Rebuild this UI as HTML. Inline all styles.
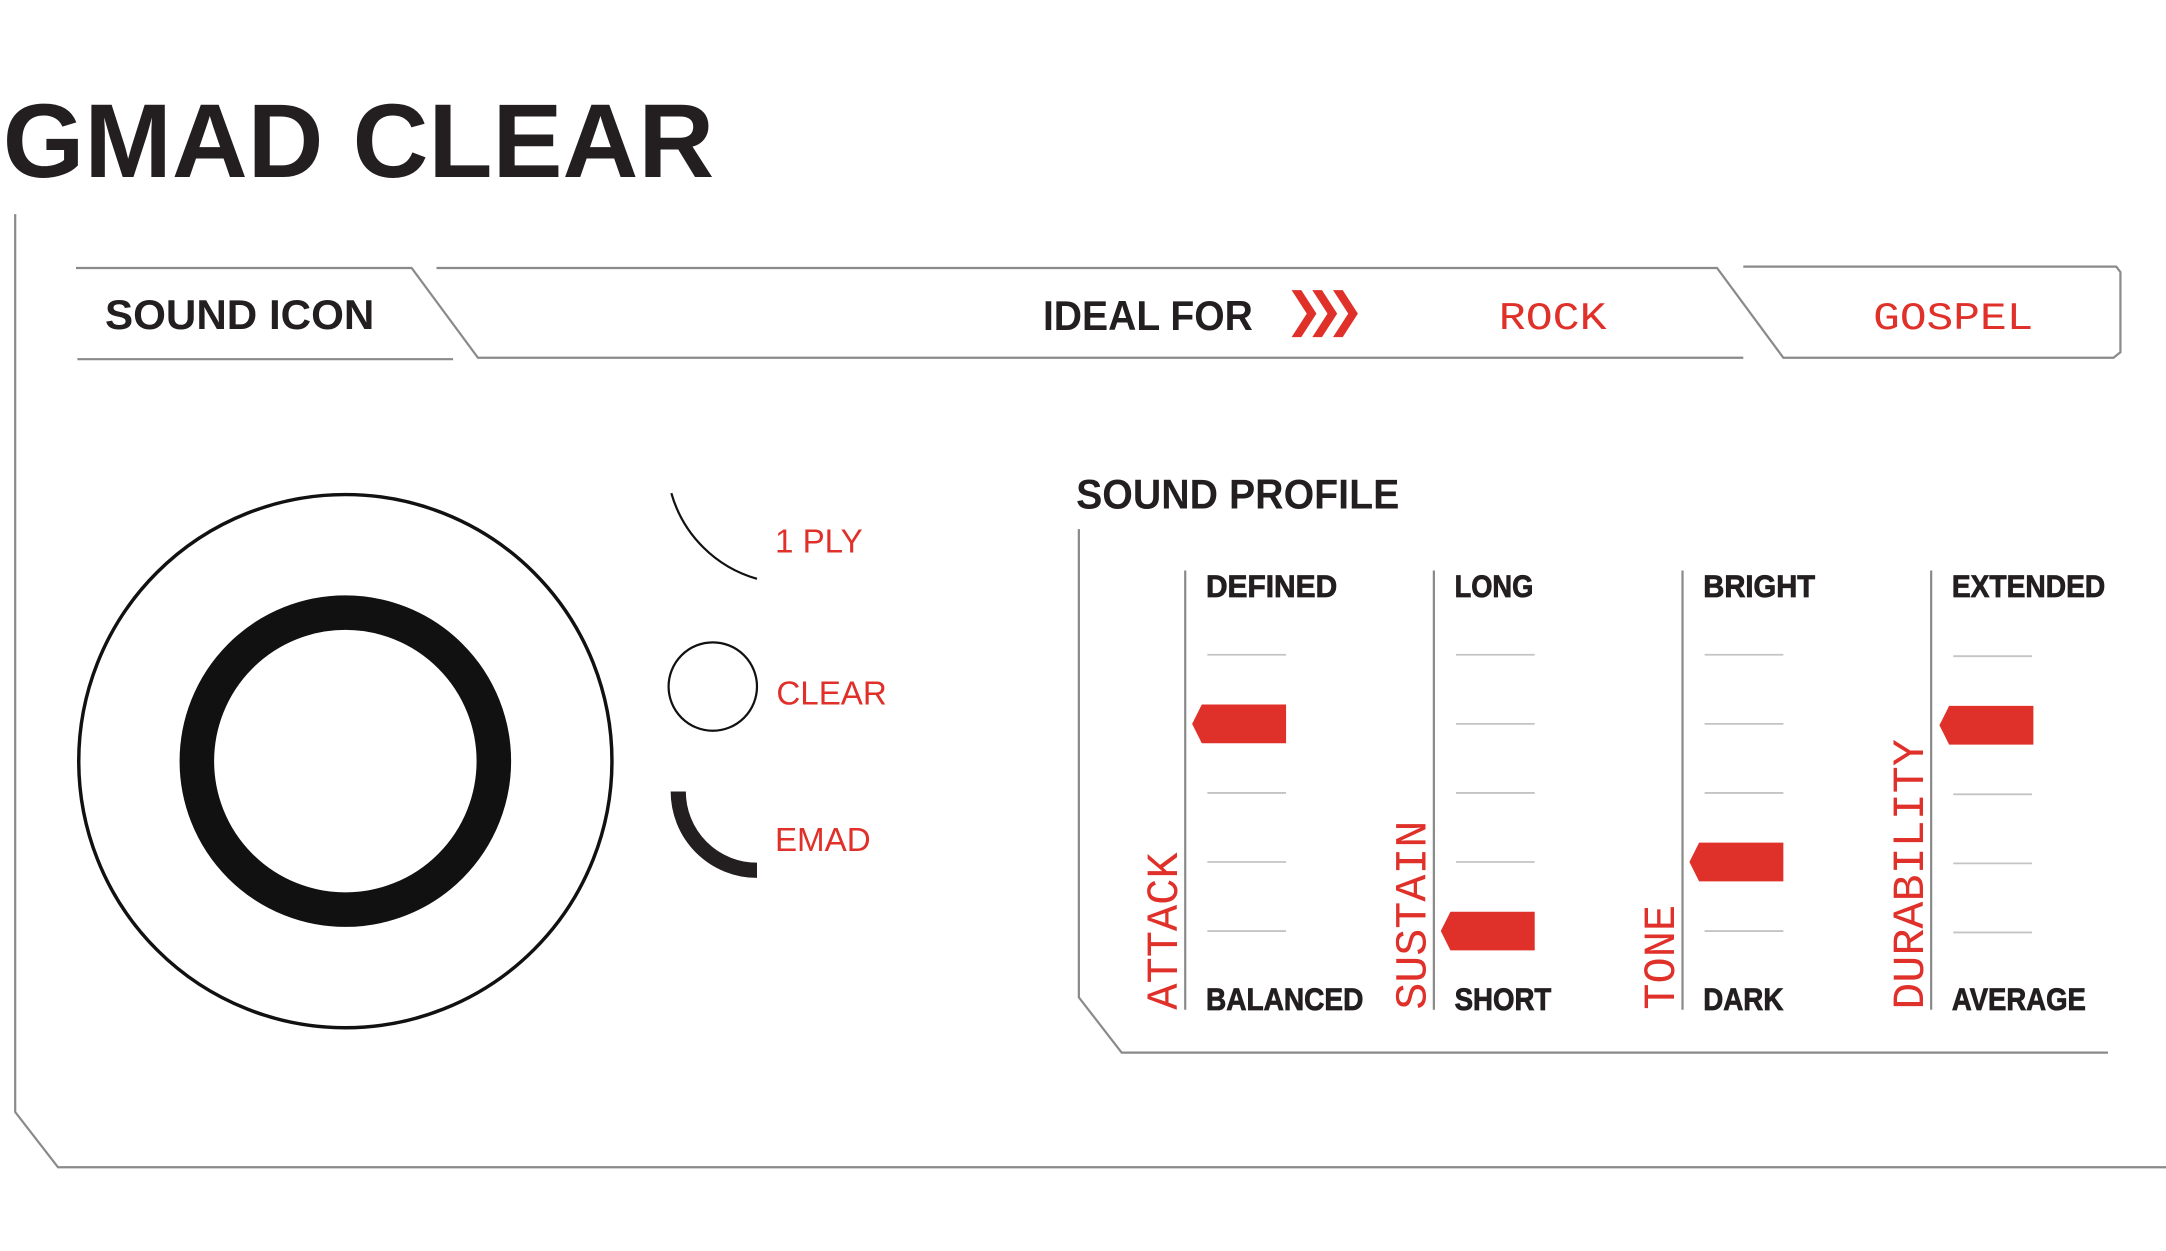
<!DOCTYPE html>
<html><head><meta charset="utf-8"><style>
html,body{margin:0;padding:0;background:#fff;}
svg{display:block;}
</style></head><body>
<svg width="2166" height="1251" viewBox="0 0 1568 905.6" xmlns="http://www.w3.org/2000/svg">
<rect width="1568" height="906" fill="#fff"/>
<g fill="none" stroke="#8a8a8a" stroke-width="1.6">
<polyline points="11,155 11,805 42,845 1568,845"/>
<polyline points="55,194 298,194 346,259 1262,259"/>
<line x1="56" y1="260" x2="328" y2="260"/>
<polyline points="316,194 1243,194 1291,259 1530,259 1535,255 1535,197 1532,193 1262,193"/>
<polyline points="781,383 781,722 812,762 1526,762"/>
<line x1="858" y1="413" x2="858" y2="731"/>
<line x1="1038" y1="413" x2="1038" y2="731"/>
<line x1="1218" y1="413" x2="1218" y2="731"/>
<line x1="1398" y1="413" x2="1398" y2="731"/>
</g>
<g stroke="#c4c4c4" stroke-width="1.3">
<path d="M874 474H931M874 524H931M874 574H931M874 624H931M874 674H931"/>
<path d="M1054 474H1111M1054 524H1111M1054 574H1111M1054 624H1111M1054 674H1111"/>
<path d="M1234 474H1291M1234 524H1291M1234 574H1291M1234 624H1291M1234 674H1291"/>
<path d="M1414 475H1471M1414 575H1471M1414 625H1471M1414 675H1471"/>
</g>
<g fill="#e0302a">
<polygon points="931,510 870,510 863,524 870,538 931,538"/>
<polygon points="1111,660 1050,660 1043,674 1050,688 1111,688"/>
<polygon points="1291,610 1230,610 1223,624 1230,638 1291,638"/>
<polygon points="1472,511 1411,511 1404,525 1411,539 1472,539"/>
<polygon points="935,210 942,210 953,227 942,244 935,244 946,227"/>
<polygon points="950,210 957,210 968,227 957,244 950,244 961,227"/>
<polygon points="965,210 972,210 983,227 972,244 965,244 976,227"/>
</g>
<g fill="none" stroke="#111">
<circle cx="250" cy="551" r="193" stroke-width="2.5"/>
<circle cx="250" cy="551" r="107.5" stroke-width="25"/>
<path d="M486 357 A90 90 0 0 0 548 419" stroke-width="1.6"/>
<circle cx="516" cy="497" r="32" stroke-width="1.6"/>
<path d="M491 573 A57 57 0 0 0 548 630" stroke-width="11" stroke="#231f20"/>
</g>
<g font-family="Liberation Sans, sans-serif" font-weight="bold" fill="#231f20">
<text x="2" y="128" font-size="76" textLength="515" lengthAdjust="spacingAndGlyphs">GMAD CLEAR</text>
<text x="76" y="238" font-size="30" textLength="195" lengthAdjust="spacingAndGlyphs">SOUND ICON</text>
<text x="755" y="239" font-size="30" textLength="152" lengthAdjust="spacingAndGlyphs">IDEAL FOR</text>
<text x="779" y="368" font-size="30" textLength="234" lengthAdjust="spacingAndGlyphs">SOUND PROFILE</text>
<g font-size="23" stroke="#231f20" stroke-width="0.6">
<text x="873" y="432" textLength="95" lengthAdjust="spacingAndGlyphs">DEFINED</text>
<text x="1053" y="432" textLength="57" lengthAdjust="spacingAndGlyphs">LONG</text>
<text x="1233" y="432" textLength="81" lengthAdjust="spacingAndGlyphs">BRIGHT</text>
<text x="1413" y="432" textLength="111" lengthAdjust="spacingAndGlyphs">EXTENDED</text>
<text x="873" y="731" textLength="114" lengthAdjust="spacingAndGlyphs">BALANCED</text>
<text x="1053" y="731" textLength="70" lengthAdjust="spacingAndGlyphs">SHORT</text>
<text x="1233" y="731" textLength="58" lengthAdjust="spacingAndGlyphs">DARK</text>
<text x="1413" y="731" textLength="97" lengthAdjust="spacingAndGlyphs">AVERAGE</text>
</g>
</g>
<g font-family="Liberation Sans, sans-serif" fill="#e0302a" font-size="24">
<text x="561" y="400">1 PLY</text>
<text x="562" y="510">CLEAR</text>
<text x="561" y="616">EMAD</text>
</g>
<g font-family="Liberation Mono, monospace" fill="#e0302a">
<text x="1085" y="238" font-size="28" textLength="78" lengthAdjust="spacingAndGlyphs">ROCK</text>
<text x="1356" y="238" font-size="28" textLength="116" lengthAdjust="spacingAndGlyphs">GOSPEL</text>
<g font-size="32">
<text transform="translate(852,731) rotate(-90)" textLength="114" lengthAdjust="spacingAndGlyphs">ATTACK</text>
<text transform="translate(1032,731) rotate(-90)" textLength="137" lengthAdjust="spacingAndGlyphs">SUSTAIN</text>
<text transform="translate(1212,731) rotate(-90)" textLength="76" lengthAdjust="spacingAndGlyphs">TONE</text>
<text transform="translate(1392,731) rotate(-90)" textLength="196" lengthAdjust="spacingAndGlyphs">DURABILITY</text>
</g>
</g>
</svg>
</body></html>
